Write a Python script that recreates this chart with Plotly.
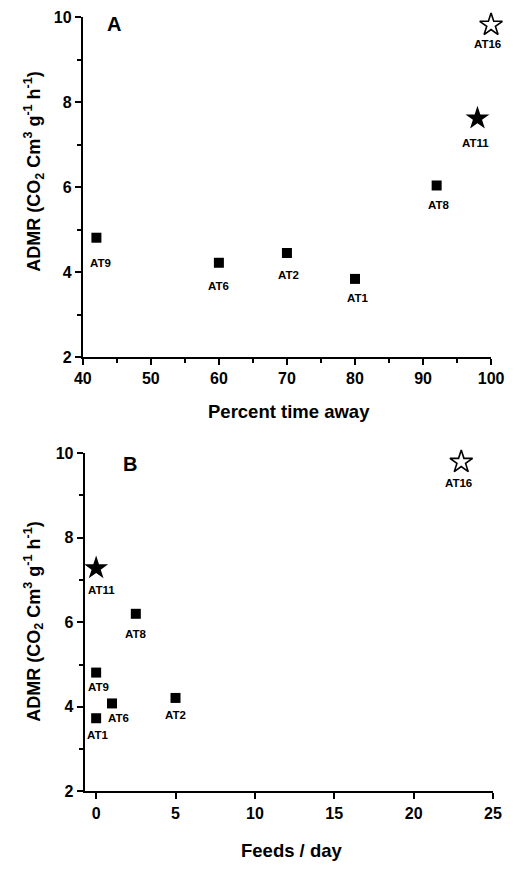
import plotly.graph_objects as go

# ---- data ----
names = ["AT9", "AT6", "AT2", "AT1", "AT8", "AT11", "AT16"]
pct_time_away = [42, 60, 70, 80, 92, 98, 100]
admr_a = [4.81, 4.22, 4.45, 3.84, 6.04, 7.62, 9.82]

feeds_per_day = [0, 1.0, 5.0, 0, 2.5, 0, 23.0]
admr_b = [4.81, 4.08, 4.21, 3.73, 6.2, 7.28, 9.79]

marker_kind = ["square", "square", "square", "square", "square", "star", "star-open"]

x_ticks_a = [40, 50, 60, 70, 80, 90, 100]
x_ticks_b = [0, 5, 10, 15, 20, 25]
y_ticks = [2, 4, 6, 8, 10]

# ---- style ----
W, H = 529, 870
FONT = "Liberation Sans"
marker_size = {"square": 10, "star": 18, "star-open": 17}
# label nudges (pixels): (xshift, yshift)
nudge_a = {"AT9": (4, -25), "AT6": (0, -23), "AT2": (2, -22), "AT1": (3, -19),
           "AT8": (2, -20), "AT11": (-2, -25), "AT16": (-4, -19)}
nudge_b = {"AT9": (2, -14), "AT6": (6, -15), "AT2": (0, -17), "AT1": (1, -17),
           "AT8": (0, -20), "AT11": (5, -22), "AT16": (-3, -21)}

def px(x):
    return x / W

def py(y):
    return 1 - y / H

fig = go.Figure()

for xs, ys, xa, ya in [(pct_time_away, admr_a, "x", "y"), (feeds_per_day, admr_b, "x2", "y2")]:
    fig.add_trace(go.Scatter(
        x=xs, y=ys, xaxis=xa, yaxis=ya, mode="markers",
        marker=dict(symbol=marker_kind,
                    size=[marker_size[k] for k in marker_kind],
                    color="#000000", opacity=1,
                    line=dict(color="#000000", width=[0 if k != "star-open" else 1.6 for k in marker_kind])),
        opacity=1, cliponaxis=False, showlegend=False, hoverinfo="skip"))

annotations = []
label_font = dict(family=FONT, size=11.5, color="black", weight="bold")
for n, xv, yv in zip(names, pct_time_away, admr_a):
    dx, dy = nudge_a[n]
    annotations.append(dict(x=xv, y=yv, xref="x", yref="y", text=n, showarrow=False,
                            xshift=dx, yshift=dy, xanchor="center", yanchor="middle",
                            font=label_font))
for n, xv, yv in zip(names, feeds_per_day, admr_b):
    dx, dy = nudge_b[n]
    annotations.append(dict(x=xv, y=yv, xref="x2", yref="y2", text=n, showarrow=False,
                            xshift=dx, yshift=dy, xanchor="center", yanchor="middle",
                            font=label_font))

ytitle = "ADMR (CO<sub>2</sub> Cm<sup>3</sup> g<sup>-1</sup> h<sup>-1</sup>)"
paper_texts = [
    ("A", 110, 16, 0, 20),
    ("B", 126, 465, 0, 20),
    (ytitle, 26, 167, -90, 18),
    (ytitle, 26, 626, -90, 18),
    ("Percent time away", 292, 412, 0, 18.5),
    ("Feeds / day", 295, 859, 0, 18.5),
]
for txt, x0, y0, ang, fs in paper_texts:
    annotations.append(dict(x=px(x0), y=py(y0), xref="paper", yref="paper", text=txt,
                            textangle=ang, showarrow=False, xanchor="center", yanchor="middle",
                            font=dict(family=FONT, size=fs, color="black", weight="bold")))

tickfont = dict(family=FONT, size=16, color="black", weight="bold")
common = dict(showline=True, linecolor="black", linewidth=2, ticks="outside", ticklen=6,
              tickwidth=2, tickcolor="black", showgrid=False, zeroline=False,
              tickfont=tickfont, fixedrange=True)
minor_style = dict(ticks="outside", ticklen=4, tickwidth=1.5, tickcolor="black")

fig.update_layout(
    width=W, height=H, margin=dict(l=0, r=0, t=0, b=0),
    paper_bgcolor="white", plot_bgcolor="white",
    xaxis=dict(domain=[px(77), px(503)], range=[40, 100], anchor="y",
               tickvals=x_ticks_a, minor=dict(dtick=5, **minor_style), **common),
    yaxis=dict(domain=[py(356), py(9.5)], range=[2, 10], anchor="x",
               tickvals=y_ticks, minor=dict(dtick=1, **minor_style), **common),
    xaxis2=dict(domain=[px(79), px(505)], range=[-0.72, 25], anchor="y2",
                tickvals=x_ticks_b, **common),
    yaxis2=dict(domain=[py(799), py(454)], range=[2, 10], anchor="x2",
                tickvals=y_ticks, minor=dict(dtick=1, **minor_style), **common),
    annotations=annotations,
)

fig.write_html("out.html")
